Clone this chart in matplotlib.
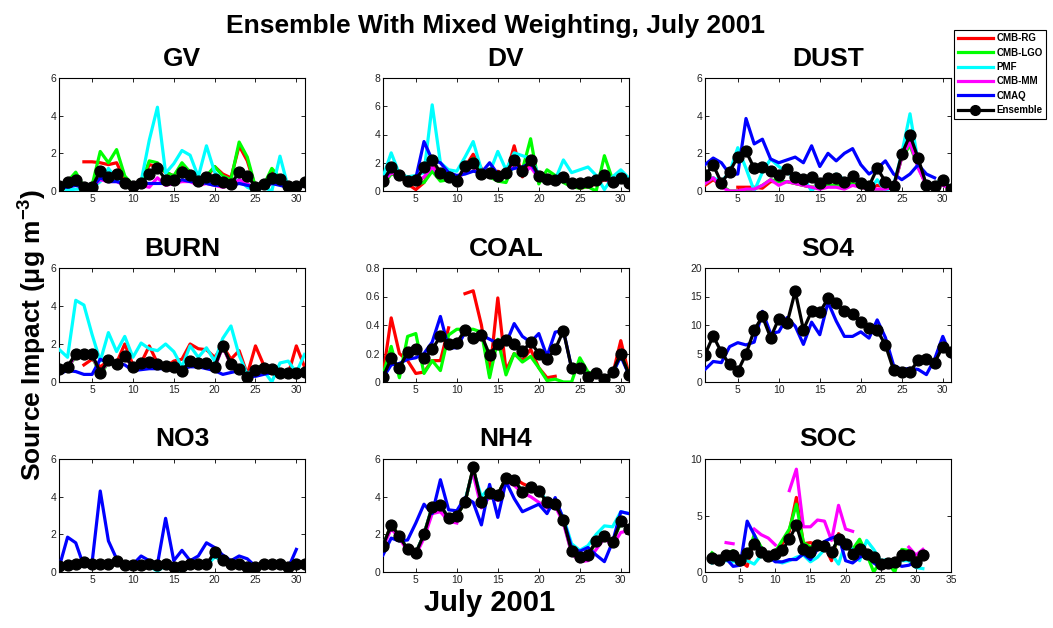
import numpy as np
import matplotlib
matplotlib.use("Agg")
import matplotlib.pyplot as plt
from matplotlib.lines import Line2D

nan = np.nan
days = list(range(1, 32))

# ---------------- data ----------------
gv_rg = [nan,nan,nan,1.55,1.55,1.5,1.4,1.5,0.6,0.3,0.4,1.4,1.3,1.0,0.8,1.3,0.9,0.7,0.7,1.3,0.9,0.7,2.4,1.6,0.2,0.3,1.0,0.7,0.2,0.2,0.5]
gv_lgo = [0.3,0.5,1.0,0.2,0.3,2.1,1.5,2.2,0.8,0.3,0.4,1.6,1.5,1.0,0.8,1.5,1.0,0.7,0.8,1.3,0.8,0.6,2.6,1.8,0.2,0.3,1.2,0.7,0.2,0.2,0.5]
gv_pmf = [0.2,0.05,0.1,0.1,0.15,0.5,1.2,0.6,0.5,0.2,0.5,2.7,4.45,0.95,1.45,2.15,1.9,0.75,2.4,1.0,0.6,0.4,0.6,0.2,0.0,0.2,0.0,1.85,0.2,0.2,0.4]
gv_mm = [0.2,0.3,0.3,0.2,0.2,0.6,0.5,0.5,0.3,0.2,0.3,0.2,0.7,0.3,0.4,0.5,0.5,0.3,0.4,0.3,0.2,0.3,0.6,0.4,0.1,0.2,0.4,0.4,0.2,0.2,0.3]
gv_cmaq = [0.2,0.2,0.3,0.2,0.2,0.7,0.5,0.5,0.4,0.3,0.4,0.4,0.4,0.4,0.4,0.6,0.5,0.5,0.4,0.3,0.3,0.3,0.4,0.3,0.2,0.3,0.4,0.3,0.2,0.2,0.3]
gv_ens = [0.26,0.5,0.58,0.23,0.2,1.08,0.76,0.9,0.44,0.26,0.4,0.9,1.23,0.58,0.58,1.0,0.85,0.53,0.76,0.62,0.5,0.37,1.0,0.8,0.23,0.37,0.7,0.62,0.28,0.28,0.5]

dv_rg = [0.7,1.2,1.1,0.5,0.1,0.6,1.8,1.0,0.9,0.7,1.7,2.6,1.6,1.0,1.4,1.1,3.2,1.0,2.0,1.0,0.9,0.7,0.9,0.4,0.2,0.3,0.5,0.8,0.6,0.8,0.6]
dv_lgo = [0.4,1.2,1.1,0.6,0.5,0.6,1.4,0.7,0.8,0.5,1.7,2.3,1.3,1.0,0.7,0.6,2.0,1.5,3.7,0.5,1.5,1.1,0.6,0.3,0.2,0.3,0.0,2.5,0.8,0.9,0.6]
dv_pmf = [1.0,2.7,1.2,1.0,1.1,1.3,6.1,2.0,1.5,1.4,2.4,3.5,1.5,1.3,2.8,1.5,2.7,2.5,2.3,1.2,1.0,0.8,2.2,1.3,1.5,1.7,1.1,0.1,1.0,1.5,0.9]
dv_mm = [0.6,1.3,1.0,0.7,0.6,1.0,1.7,1.0,0.9,0.7,1.5,1.7,1.1,1.1,1.0,1.2,2.0,1.2,1.7,0.9,0.8,0.7,0.8,0.5,0.5,0.5,0.6,0.9,0.6,0.8,0.6]
dv_cmaq = [0.8,1.5,1.2,0.7,0.9,3.5,2.2,2.0,1.3,1.1,1.2,1.4,1.3,2.0,1.2,1.4,1.6,1.7,2.0,1.0,0.7,0.8,0.8,0.6,0.5,0.6,0.8,0.9,0.6,0.8,0.7]
dv_ens = [0.7,1.67,1.13,0.7,0.78,1.67,2.23,1.3,1.0,0.73,1.76,1.95,1.2,1.3,1.06,1.3,2.23,1.43,2.23,1.06,0.82,0.78,1.0,0.59,0.54,0.66,0.78,1.13,0.66,0.9,0.6]

dust_rg = [0.3,0.6,0.3,nan,0.2,0.2,0.2,0.15,0.5,0.5,0.5,0.4,0.3,0.2,0.2,0.3,0.3,0.3,0.4,0.2,0.1,0.3,0.2,0.2,1.8,2.6,1.3,0.3,0.3,0.4,0.1]
dust_lgo = [0.4,0.7,0.3,0.0,0.0,0.05,0.1,0.3,0.6,0.5,0.5,0.4,0.3,0.2,0.2,0.3,0.3,0.3,0.4,0.2,0.1,0.0,0.1,0.2,1.8,2.4,1.3,0.3,0.3,0.4,0.1]
dust_pmf = [0.5,0.7,0.5,1.0,2.3,1.2,0.0,1.0,1.7,1.3,1.0,0.7,0.7,0.0,0.5,0.6,0.9,0.6,0.7,0.3,0.0,0.6,0.0,0.3,2.0,4.1,1.5,0.3,0.3,0.7,0.1]
dust_mm = [0.4,0.7,0.2,0.0,0.0,0.1,0.1,0.3,0.6,0.3,0.5,0.4,0.3,0.2,0.1,0.2,0.2,0.1,0.3,0.2,0.1,0.1,0.1,0.2,1.8,2.6,1.2,0.3,0.3,0.3,0.1]
dust_cmaq = [1.4,1.75,1.5,0.9,0.9,3.85,2.5,2.75,1.7,1.5,1.65,1.8,1.5,2.4,1.3,2.0,1.6,2.0,2.25,1.4,0.9,1.2,1.6,0.9,0.6,0.9,1.4,0.9,0.7,nan,nan]
dust_ens = [0.85,1.38,0.44,1.02,1.82,2.12,1.2,1.29,1.06,0.85,1.15,0.76,0.62,0.72,0.4,0.67,0.7,0.5,0.8,0.44,0.26,1.2,0.5,0.26,1.96,2.96,1.73,0.32,0.28,0.58,0.1]

burn_rg = [nan,nan,nan,0.9,1.2,0.8,1.1,1.0,2.0,0.9,1.0,1.9,1.0,0.8,1.1,1.2,2.0,1.75,1.7,1.3,1.9,1.2,1.65,0.4,1.9,0.9,0.7,0.5,0.4,1.9,0.8]
burn_lgo = [0.7,0.8,1.3,1.3,1.4,0.3,1.1,0.9,1.3,0.8,0.9,1.0,0.9,0.7,0.8,0.6,1.0,1.0,1.0,0.8,1.9,0.9,0.7,0.3,0.7,0.9,0.7,0.5,0.4,0.5,0.5]
burn_pmf = [1.7,1.3,4.3,4.05,2.5,1.1,2.6,1.6,2.4,1.3,2.05,1.75,1.65,2.0,1.6,0.8,1.9,1.3,1.8,1.1,2.3,2.95,1.4,0.4,0.8,0.6,0.0,1.0,1.1,0.5,1.45]
burn_mm = [0.65,0.75,1.4,1.35,1.4,0.45,1.1,0.9,1.3,0.8,0.95,1.0,0.9,0.8,0.75,0.6,1.05,0.95,1.0,0.75,1.85,0.9,0.65,0.25,0.6,0.7,0.65,0.45,0.4,0.45,0.5]
burn_cmaq = [0.45,0.6,0.55,0.4,0.4,1.2,1.0,1.0,0.9,0.6,0.65,0.7,0.7,0.7,0.6,0.7,0.8,0.8,0.7,0.6,0.4,0.5,0.6,0.3,0.3,0.4,0.5,0.4,0.4,0.5,0.5]
burn_ens = [0.67,0.8,1.5,1.45,1.45,0.5,1.15,0.95,1.35,0.8,1.0,1.05,0.95,0.85,0.8,0.6,1.1,1.0,1.0,0.8,1.9,0.95,0.7,0.26,0.65,0.75,0.7,0.5,0.45,0.5,0.55]

coal_rg = [0.05,0.45,0.2,0.15,0.06,0.07,0.15,0.15,0.38,nan,0.62,0.64,0.4,0.05,0.59,0.08,0.2,0.15,0.23,0.1,0.03,0.04,nan,nan,nan,nan,nan,nan,0.05,0.29,0.05]
coal_lgo = [0.05,0.25,0.03,0.32,0.34,0.06,0.15,0.08,0.33,0.37,0.37,0.37,0.35,0.03,0.3,0.05,0.2,0.14,0.18,0.1,0.01,0.02,0.0,0.0,0.17,0.07,0.05,0.02,0.05,0.2,0.05]
coal_cmaq = [0.03,0.12,0.13,0.16,0.17,0.2,0.28,0.46,0.24,0.24,0.35,0.32,0.33,0.3,0.27,0.27,0.41,0.32,0.28,0.34,0.18,0.35,0.36,0.1,0.08,0.05,0.05,0.03,0.06,0.18,0.05]
coal_ens = [0.035,0.165,0.1,0.21,0.23,0.165,0.23,0.32,0.27,0.275,0.365,0.31,0.33,0.19,0.27,0.295,0.27,0.215,0.28,0.2,0.16,0.23,0.36,0.095,0.095,0.035,0.06,0.02,0.07,0.2,0.05]

so4_cmaq = [2.2,3.6,3.4,6.2,6.9,6.5,7.0,12.4,8.5,8.8,11.3,9.8,6.6,10.5,8.3,14.0,10.7,8.0,8.0,8.8,7.7,10.9,7.8,2.9,2.2,2.4,2.2,1.3,4.0,8.0,4.5]
so4_ens = [4.8,8.1,5.2,3.1,1.9,4.9,9.1,11.5,7.8,11.1,10.3,15.9,9.2,12.4,12.2,14.7,13.8,12.4,11.9,10.5,9.5,9.1,6.5,2.1,1.8,1.8,3.8,4.1,3.4,6.2,5.2]

no3_pmf = [0.25,0.3,0.35,0.45,0.35,0.35,0.3,0.5,0.3,0.3,0.25,0.3,0.05,0.35,0.2,0.05,0.3,0.35,0.3,0.8,0.6,0.4,0.35,0.2,0.2,0.35,0.3,0.35,0.2,0.35,0.35]
no3_cmaq = [0.3,1.85,1.55,0.3,0.5,4.3,1.65,0.7,0.45,0.4,0.85,0.6,0.4,2.85,0.6,1.15,0.6,0.85,1.55,1.3,0.9,0.6,0.85,0.7,0.3,0.3,0.45,0.3,0.2,1.2,nan]
no3_ens = [0.3,0.35,0.45,0.55,0.4,0.4,0.45,0.6,0.35,0.35,0.35,0.45,0.35,0.45,0.25,0.3,0.45,0.45,0.4,1.05,0.65,0.45,0.45,0.25,0.25,0.4,0.4,0.4,0.25,0.45,0.4]

nh4_rg = [1.4,2.5,1.9,1.2,1.0,2.0,3.4,3.5,2.9,3.0,3.7,5.5,3.7,4.2,4.1,5.0,5.0,4.7,4.5,4.3,3.7,3.6,2.8,1.1,0.8,0.9,1.6,1.9,1.6,2.7,2.3]
nh4_lgo = [1.4,2.5,1.9,1.2,1.0,2.0,3.5,3.6,2.8,3.0,3.7,5.5,3.7,4.2,4.1,5.0,5.0,4.2,4.5,4.3,3.7,3.6,2.7,1.0,0.7,0.9,1.6,1.9,1.6,2.6,2.3]
nh4_pmf = [1.4,2.4,1.9,1.2,1.0,2.0,3.4,3.5,2.9,3.1,3.8,5.4,4.0,4.5,4.0,4.9,4.8,4.3,4.4,4.3,3.8,3.7,2.9,1.5,1.15,1.4,2.0,2.45,2.4,3.2,3.1]
nh4_mm = [1.3,2.3,1.8,1.1,0.9,1.8,3.1,3.2,2.7,2.6,nan,5.2,3.4,4.0,3.8,4.8,4.6,4.2,4.0,3.7,3.4,3.5,2.6,1.0,0.55,0.6,1.2,1.8,1.4,2.1,2.2]
nh4_cmaq = [0.9,1.8,1.65,1.7,2.6,3.6,3.1,4.9,3.3,3.25,3.95,3.7,2.5,4.65,2.9,4.8,3.9,3.2,3.4,3.6,3.1,3.95,2.8,1.3,1.1,1.3,0.9,0.55,1.6,3.2,3.1]
nh4_ens = [1.4,2.5,1.9,1.2,1.0,2.0,3.45,3.55,2.85,3.0,3.7,5.55,3.7,4.2,4.1,5.0,4.9,4.25,4.5,4.3,3.7,3.6,2.75,1.1,0.8,0.9,1.65,1.9,1.6,2.7,2.3]

soc_rg = [1.5,1.2,1.5,1.5,1.0,0.5,3.0,2.0,1.2,1.5,2.5,3.6,6.6,2.5,2.6,2.4,2.3,1.0,3.4,2.5,1.7,2.5,1.5,1.1,0.6,0.8,0.9,1.7,1.7,1.3,1.5]
soc_lgo = [1.7,1.2,1.6,1.9,1.0,1.3,3.3,2.2,1.4,1.8,2.8,3.8,6.0,2.6,2.2,2.4,2.4,1.4,3.2,2.8,2.0,2.9,1.6,0.0,1.0,0.8,0.0,2.0,1.9,1.5,1.7]
soc_pmf = [0.8,1.0,1.0,0.9,1.0,1.0,0.7,1.5,1.2,1.0,0.8,1.0,1.3,1.5,0.9,1.3,2.0,1.6,0.7,2.6,2.0,1.0,2.8,2.0,1.0,1.1,1.0,1.0,1.0,0.4,0.3]
soc_mm = [nan,nan,2.6,2.5,nan,nan,3.8,3.3,3.0,2.4,nan,7.2,9.1,4.0,4.0,4.6,4.5,2.8,5.9,3.8,3.6,nan,nan,nan,nan,nan,nan,nan,2.2,1.5,2.0]
soc_cmaq = [1.2,1.1,1.2,0.5,0.6,4.5,3.3,1.8,1.4,0.9,0.9,1.1,1.1,1.6,1.1,2.0,2.7,3.0,3.2,1.0,0.8,1.3,1.6,0.8,0.4,0.6,0.8,0.5,0.6,0.9,nan]
soc_ens = [1.24,1.1,1.54,1.54,1.04,1.69,2.46,1.78,1.42,1.63,1.92,2.9,4.14,2.07,1.78,2.37,2.3,1.78,2.96,2.51,1.63,2.07,1.63,1.33,0.74,0.83,0.89,1.54,1.48,0.89,1.54]

series_names = ["CMB-RG", "CMB-LGO", "PMF", "CMB-MM", "CMAQ", "Ensemble"]
series_colors = ["#ff0000", "#00ff00", "#00ffff", "#ff00ff", "#0000ff", "#000000"]

panel_titles = ["GV", "DV", "DUST", "BURN", "COAL", "SO4", "NO3", "NH4", "SOC"]
panel_yticks = [[0, 2, 4, 6], [0, 2, 4, 6, 8], [0, 2, 4, 6],
                [0, 2, 4, 6], [0, 0.2, 0.4, 0.6, 0.8], [0, 5, 10, 15, 20],
                [0, 2, 4, 6], [0, 2, 4, 6], [0, 5, 10]]
panel_ytick_labels = [["0", "2", "4", "6"], ["0", "2", "4", "6", "8"], ["0", "2", "4", "6"],
                      ["0", "2", "4", "6"], ["0", "0.2", "0.4", "0.6", "0.8"], ["0", "5", "10", "15", "20"],
                      ["0", "2", "4", "6"], ["0", "2", "4", "6"], ["0", "5", "10"]]
x_ticks = [5, 10, 15, 20, 25, 30]
soc_x_ticks = [0, 5, 10, 15, 20, 25, 30, 35]

panel_series = [
    [gv_rg, gv_lgo, gv_pmf, gv_mm, gv_cmaq, gv_ens],
    [dv_rg, dv_lgo, dv_pmf, dv_mm, dv_cmaq, dv_ens],
    [dust_rg, dust_lgo, dust_pmf, dust_mm, dust_cmaq, dust_ens],
    [burn_rg, burn_lgo, burn_pmf, burn_mm, burn_cmaq, burn_ens],
    [coal_rg, coal_lgo, None, None, coal_cmaq, coal_ens],
    [None, None, None, None, so4_cmaq, so4_ens],
    [None, None, no3_pmf, None, no3_cmaq, no3_ens],
    [nh4_rg, nh4_lgo, nh4_pmf, nh4_mm, nh4_cmaq, nh4_ens],
    [soc_rg, soc_lgo, soc_pmf, soc_mm, soc_cmaq, soc_ens],
]

# ---------------- figure ----------------
plt.rcParams['font.family'] = ['Liberation Sans', 'DejaVu Sans']
plt.rcParams['mathtext.fontset'] = 'custom'
plt.rcParams['mathtext.rm'] = 'Liberation Sans'
plt.rcParams['mathtext.bf'] = 'Liberation Sans:bold'

W, H = 1053, 628
fig = plt.figure(figsize=(W / 100, H / 100), dpi=100)

col_px = [(59.4, 304.5), (383, 629), (705, 951)]
row_px = [(78, 191), (268, 382), (459, 572)]

LW = 2.3
for i in range(9):
    r, c = divmod(i, 3)
    x0, x1 = col_px[c]
    y0, y1 = row_px[r]
    ax = fig.add_axes([x0 / W, 1 - y1 / H, (x1 - x0) / W, (y1 - y0) / H])
    for s, name, color in zip(panel_series[i], series_names, series_colors):
        if s is None:
            continue
        if name == "Ensemble":
            ax.plot(days, s, color=color, lw=LW, marker='o', ms=7.8,
                    mfc='black', mec='black', label=name, zorder=5)
        else:
            ax.plot(days, s, color=color, lw=LW, label=name, zorder=3)
    if i == 8:
        ax.set_xlim(0, 35)
        ax.set_xticks(soc_x_ticks)
    else:
        ax.set_xlim(1, 31)
        ax.set_xticks(x_ticks)
    ax.set_ylim(panel_yticks[i][0], panel_yticks[i][-1])
    ax.set_yticks(panel_yticks[i])
    ax.set_yticklabels(panel_ytick_labels[i])
    ax.tick_params(direction='in', top=True, right=True, length=3, width=0.6,
                   labelsize=7.5, pad=2, colors='black', labelcolor='#222222')
    for sp in ax.spines.values():
        sp.set_linewidth(0.8)
    ax.set_title(panel_titles[i], fontsize=19, fontweight='bold', pad=9)

leg_handles = [Line2D([], [], color=c, lw=LW) for c in series_colors[:5]]
leg_handles.append(Line2D([], [], color='black', lw=LW, marker='o', ms=7))
leg = fig.legend(leg_handles, series_names, loc='upper right',
                 bbox_to_anchor=(1051 / W, 1 - 25 / H), fancybox=False,
                 edgecolor='black', framealpha=1, handlelength=3.6,
                 borderpad=0.35, labelspacing=0.45, handletextpad=0.4,
                 prop={'weight': 'bold', 'size': 7})
leg.get_frame().set_linewidth(0.8)

fig.text(496 / W, 1 - 33 / H, "Ensemble With Mixed Weighting, July 2001",
         ha='center', va='baseline', fontsize=19, fontweight='bold')
fig.text(32 / W, 1 - 335 / H, "Source Impact (\u03bcg m$^{\\mathbf{-3}}$)",
         rotation=90, ha='center', va='center', fontsize=19, fontweight='bold')
fig.text(490 / W, 1 - 603 / H, "July 2001", ha='center', va='center',
         fontsize=21, fontweight='bold')

fig.savefig("out.png", dpi=100)
